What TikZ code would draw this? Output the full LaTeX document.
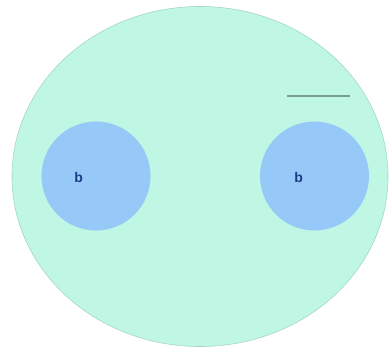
\documentclass[tikz,border=0pt]{standalone}
\usepackage{fontspec}
\setmainfont{Liberation Sans}
\definecolor{mint}{RGB}{192,246,228}
\definecolor{mintedge}{RGB}{165,215,200}
\definecolor{blob}{RGB}{150,200,248}
\definecolor{lbl}{RGB}{30,60,140}
\definecolor{bar}{RGB}{120,160,150}
\tikzset{
  innercirc/.style={circle, fill=blob, inner sep=0pt, minimum size=109pt},
  lab/.style={text=lbl, font=\fontsize{14}{14}\selectfont\bfseries, inner sep=0pt},
}
\begin{document}
\begin{tikzpicture}[x=1pt,y=-1pt]
\useasboundingbox[fill=white] (0,0) rectangle (390,347);
\fill[mint, draw=mintedge, line width=0.6pt] (200,176.5) ellipse [x radius=188, y radius=170];
\node[innercirc] (c1) at (96,176) {};
\node[innercirc] (c2) at (314.5,176) {};
\node[lab] (b1) at (78.7,177.5) {b};
\node[lab] (b2) at (298.7,177.5) {b};
\coordinate (l1) at (287,96);
\coordinate (l2) at (350,96);
\draw[bar, line width=2pt] (l1) -- (l2);
\end{tikzpicture}
\end{document}
